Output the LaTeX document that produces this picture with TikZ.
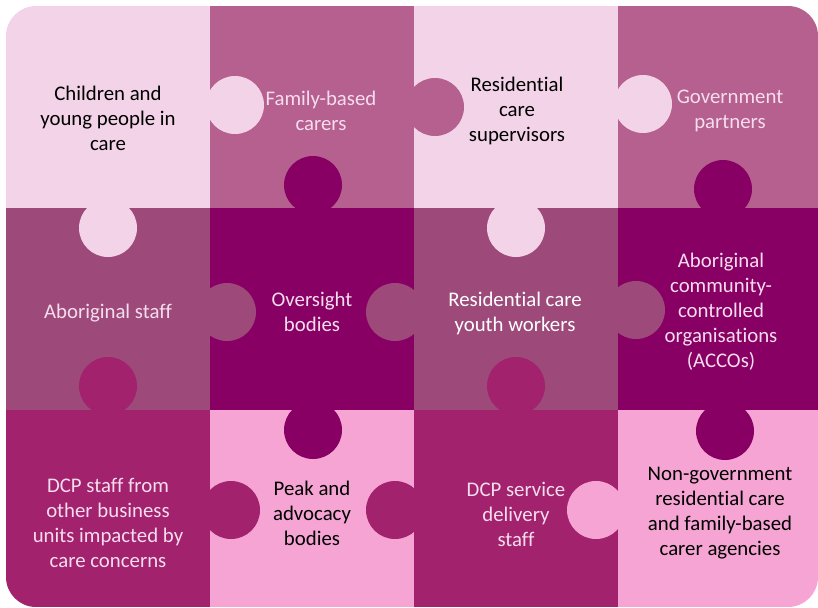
\documentclass[tikz,border=0pt]{standalone}
\usepackage{fontspec}
\setmainfont{Carlito}[Ligatures=NoCommon]
\definecolor{lpink}{HTML}{F3D3E8}
\definecolor{mauve}{HTML}{B5608F}
\definecolor{midm}{HTML}{9D4A7B}
\definecolor{dpurple}{HTML}{880063}
\definecolor{dmag}{HTML}{A2226D}
\definecolor{pinkp}{HTML}{F6A4D3}
\definecolor{lighttext}{HTML}{F6DDEE}
\tikzset{
  lbl/.style={align=center, font=\fontsize{20.8}{25}\selectfont, inner sep=0pt},
  dark/.style={lbl, text=lighttext},
  light/.style={lbl, text=black},
}
\begin{document}
\begin{tikzpicture}[x=1pt,y=-1pt]
\useasboundingbox (0,0) rectangle (818,607);
\begin{scope}
\clip[rounded corners=30pt] (6,6) rectangle (818,607);
% row 1
\fill[lpink] (6,6) rectangle (210,208);
\fill[mauve] (210,6) rectangle (414,208);
\fill[lpink] (414,6) rectangle (618,208);
\fill[mauve] (618,6) rectangle (818,208);
% row 2
\fill[midm] (6,208) rectangle (210,410);
\fill[dpurple] (210,208) rectangle (414,410);
\fill[midm] (414,208) rectangle (618,410);
\fill[dpurple] (618,208) rectangle (818,410);
% row 3
\fill[dmag] (6,410) rectangle (210,607);
\fill[pinkp] (210,410) rectangle (414,607);
\fill[dmag] (414,410) rectangle (618,607);
\fill[pinkp] (618,410) rectangle (818,607);
% tabs
\fill[lpink] (235,105) circle[radius=29pt];
\fill[mauve] (435,107) circle[radius=29pt];
\fill[lpink] (643,104) circle[radius=29pt];
\fill[dpurple] (313,185) circle[radius=29pt];
\fill[dpurple] (723,189) circle[radius=29pt];
\fill[lpink] (108,228) circle[radius=29pt];
\fill[lpink] (516,228) circle[radius=29pt];
\fill[dmag] (108,386) circle[radius=29pt];
\fill[dmag] (516,386) circle[radius=29pt];
\fill[midm] (227,312) circle[radius=29pt];
\fill[midm] (395,312) circle[radius=29pt];
\fill[midm] (636,310) circle[radius=29pt];
\fill[dpurple] (313,430) circle[radius=29pt];
\fill[dpurple] (725,431) circle[radius=29pt];
\fill[dmag] (231,510) circle[radius=29pt];
\fill[dmag] (395,510) circle[radius=29pt];
\fill[pinkp] (596,510) circle[radius=29pt];
\end{scope}
% labels
\node[light] (t11) at (108,118) {Children and\\young people in\\care};
\node[dark]  (t12) at (321,111) {Family-based\\carers};
\node[light] (t13) at (517,111) {Residential\\care\\supervisors};
\node[dark]  (t14) at (730,111) {Government\\partners};
\node[dark]  (t21) at (108,313) {Aboriginal staff};
\node[dark]  (t22) at (312,312) {Oversight\\bodies};
\node[lbl, text=white] (t23) at (515,313) {Residential care\\youth workers};
\node[dark]  (t24) at (721,312) {Aboriginal\\community-\\controlled\\organisations\\(ACCOs)};
\node[dark]  (t31) at (108,523) {DCP staff from\\other business\\units impacted by\\care concerns};
\node[light] (t32) at (312,513) {Peak and\\advocacy\\bodies};
\node[dark]  (t33) at (516,514) {DCP service\\delivery\\staff};
\node[light] (t34) at (720,513) {Non-government\\residential care\\and family-based\\carer agencies};
\end{tikzpicture}
\end{document}
